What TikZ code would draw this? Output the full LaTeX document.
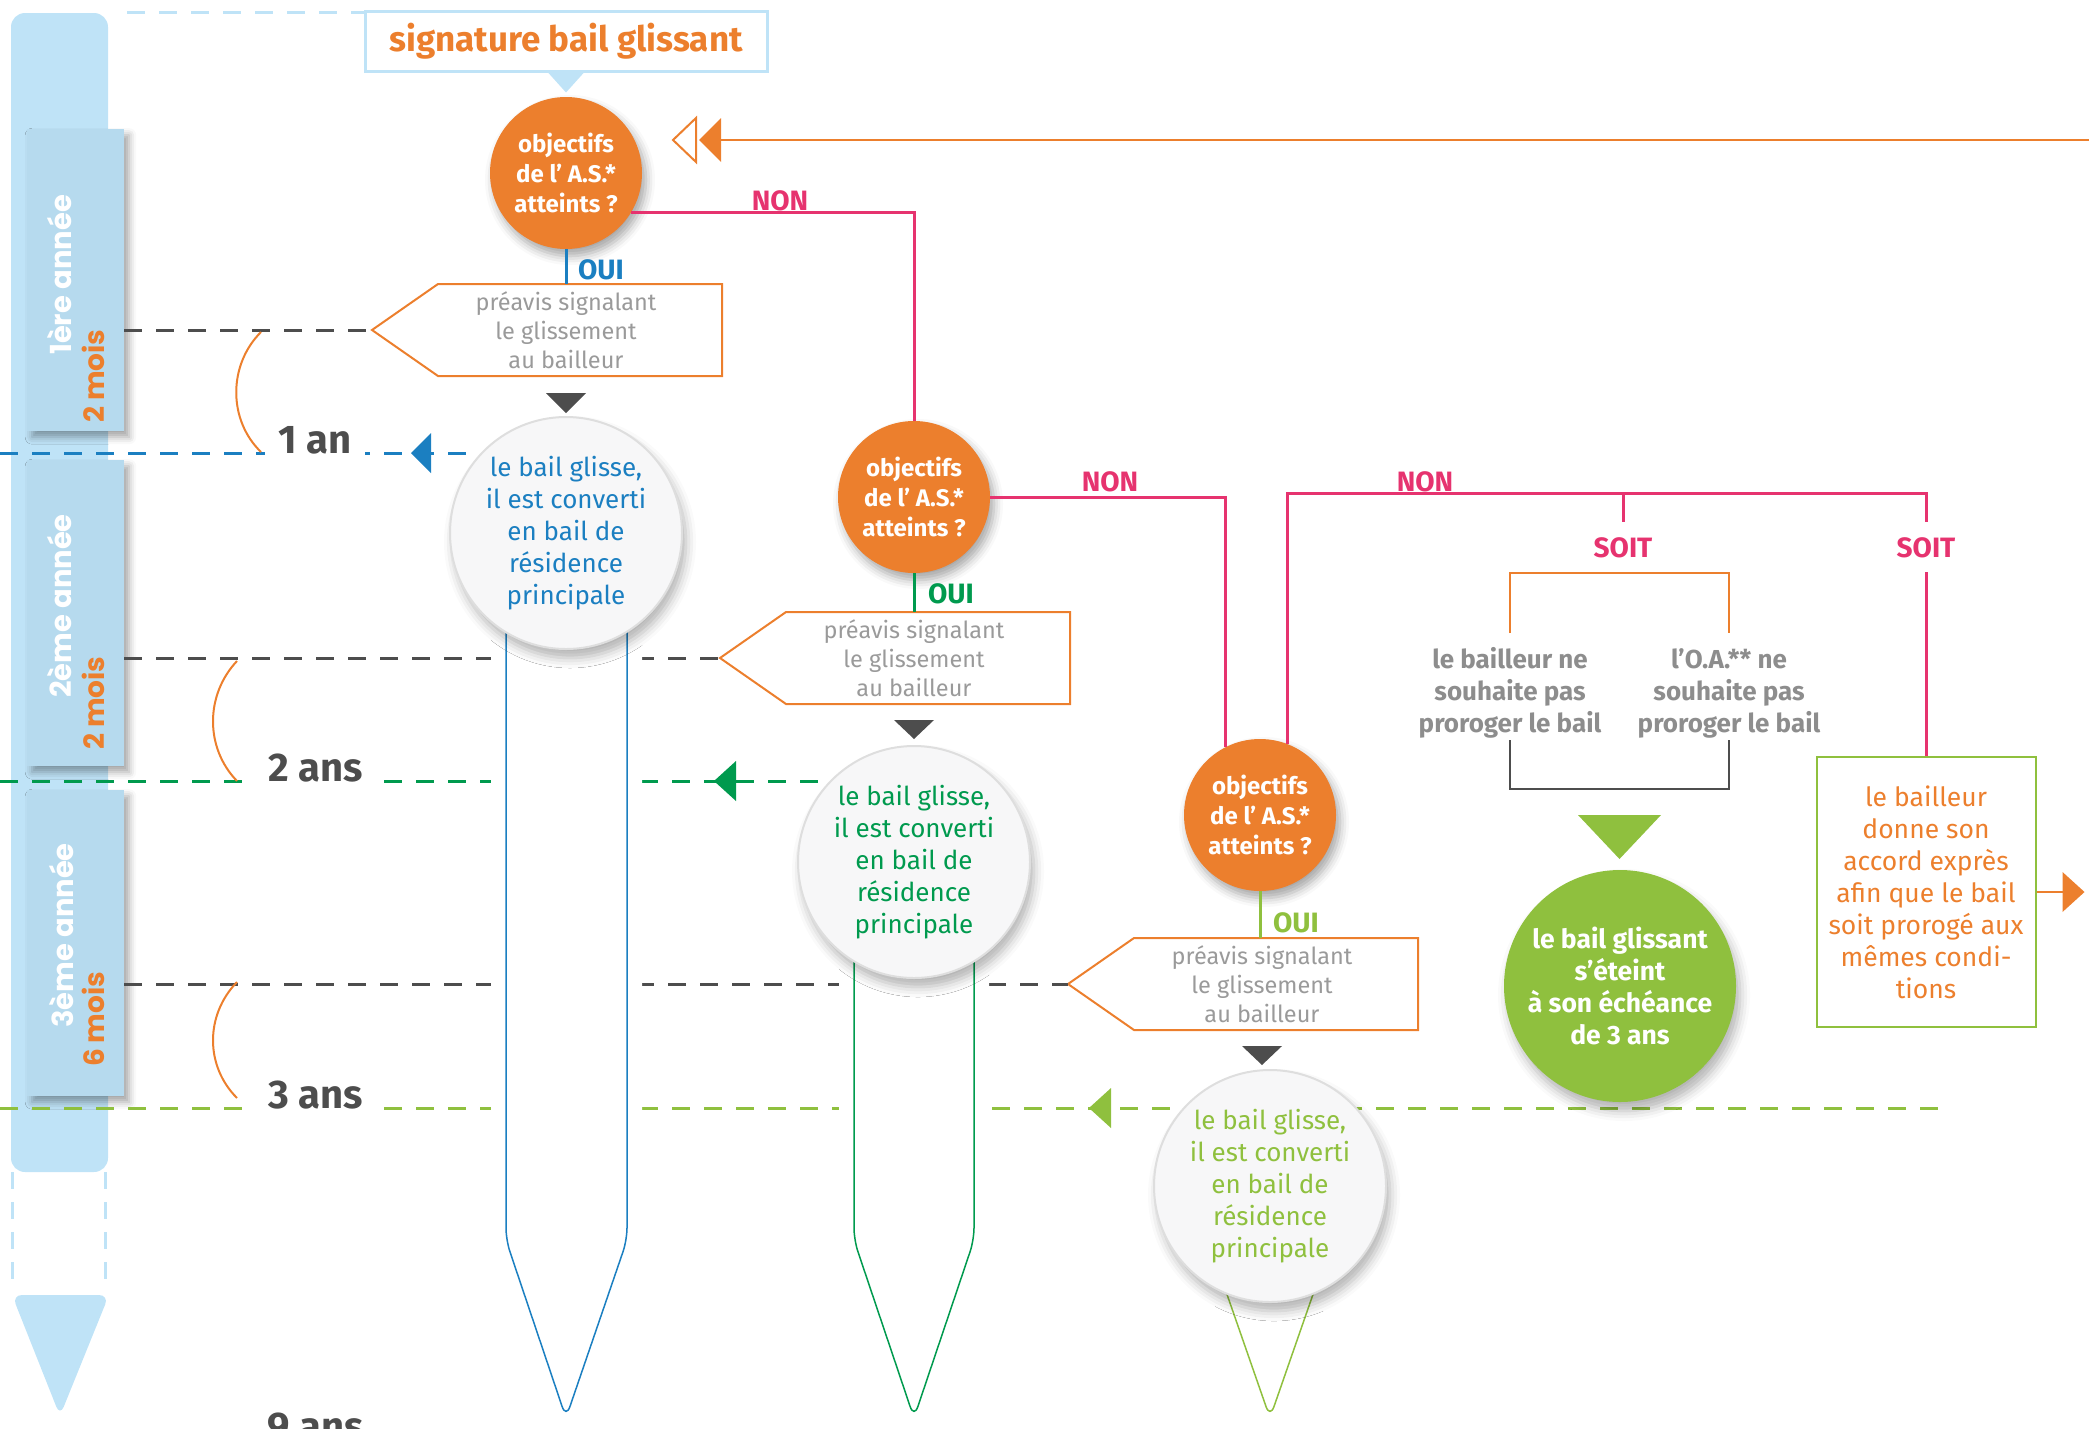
\documentclass[tikz,border=0pt]{standalone}
\usepackage{fontspec}
\setmainfont{Fira Sans}
\newfontfamily\tabfont{Poppins}
\usetikzlibrary{shadows.blur}
\definecolor{asorange}{HTML}{EC7F2D}
\definecolor{aspink}{HTML}{E6336F}
\definecolor{asblue}{HTML}{1B7FC1}
\definecolor{asgreen}{HTML}{009A4E}
\definecolor{aslime}{HTML}{8FC03E}
\definecolor{barblue}{HTML}{BFE3F7}
\definecolor{tabblue}{HTML}{B6DAEE}
\definecolor{pvgrey}{HTML}{9A9A9A}
\definecolor{refusgrey}{HTML}{8D8D8D}
\definecolor{timegrey}{HTML}{4D4D4D}
\definecolor{glfill}{HTML}{F7F7F8}
\definecolor{glborder}{HTML}{DEDEDE}
\begin{document}
\begin{tikzpicture}[
  x=1pt, y=-1pt,
  every node/.style={align=center, inner sep=0pt},
  question/.style={circle, fill=asorange, minimum size=152pt, text=white,
    font=\bfseries\fontsize{24}{30}\selectfont,
    blur shadow={shadow xshift=4pt, shadow yshift=-7pt, shadow blur radius=9pt, shadow opacity=35}},
  glisse/.style={circle, fill=glfill, draw=glborder, line width=2pt, minimum size=232pt,
    font=\fontsize{26}{32}\selectfont,
    blur shadow={shadow xshift=4pt, shadow yshift=-9pt, shadow blur radius=10pt, shadow opacity=30}},
  preavis/.style={text=pvgrey, font=\fontsize{23.5}{29}\selectfont},
  pvbox/.style={draw=asorange, line width=2pt},
  reply/.style={font=\bfseries\fontsize{28}{28}\selectfont},
  nonline/.style={draw=aspink, line width=3pt},
  timeline/.style={line width=3pt, dash pattern=on 18pt off 14pt},
  yearlbl/.style={font=\bfseries\fontsize{40}{40}\selectfont, text=timegrey, fill=white,
    inner xsep=13pt, inner ysep=4pt, anchor=base},
  pencil/.style={fill=white, line width=1.5pt, rounded corners=12pt,
    preaction={draw=white, line width=30pt}},
  tab/.style={fill=tabblue, minimum width=97pt, anchor=north west,
    blur shadow={shadow xshift=5pt, shadow yshift=-6pt, shadow blur radius=7pt, shadow opacity=35}},
  tabyear/.style={rotate=90, anchor=west, text=white, font=\tabfont\bfseries\fontsize{29}{29}\selectfont},
  tabmois/.style={rotate=90, anchor=west, text=asorange, font=\tabfont\bfseries\fontsize{28}{28}\selectfont},
  refus/.style={text=refusgrey, font=\bfseries\fontsize{26}{32}\selectfont},
  downtri/.style={fill=timegrey},
  ]
\useasboundingbox (0,0) rectangle (2089,1428);

% time axis
\fill[barblue, rounded corners=14pt] (11,13) rectangle (108,1172);
\draw[barblue, line width=3pt, dash pattern=on 17pt off 13pt] (12,1172) -- (12,1285);
\draw[barblue, line width=3pt, dash pattern=on 17pt off 13pt] (105,1172) -- (105,1285);
\fill[barblue, rounded corners=10pt] (12,1295) -- (109,1295) -- (60,1416) -- cycle;
\draw[barblue, timeline] (127,12) -- (365,12);

\node[tab, minimum height=302pt] (tab1) at (27,129) {};
\node[tab, minimum height=306pt] (tab2) at (27,460) {};
\node[tab, minimum height=306pt] (tab3) at (27,790) {};
\node[tabyear] at (60,355) {1ère année};
\node[tabmois] at (93,423) {2 mois};
\node[tabyear] at (60,698) {2ème année};
\node[tabmois] at (93,750) {2 mois};
\node[tabyear] at (62,1028) {3ème année};
\node[tabmois] at (93,1067) {6 mois};

% start
\node[draw=barblue, line width=3pt, minimum width=402pt, minimum height=60pt,
  text=asorange, font=\bfseries\fontsize{35}{35}\selectfont] (sig) at (566,41) {signature bail glissant};
\fill[barblue] (sig.south) ++(-18,0) -- ++(36,0) -- ++(-18,20) -- cycle;

% loop back
\coordinate (loopin) at (2089,140);
\coordinate (loopend) at (721,140);
\draw[asorange, line width=2pt] (loopin) -- (loopend);
\fill[asorange] (loopend) -- ++(0,-22) -- ++(-22,22) -- ++(22,22) -- cycle;
\draw[asorange, line width=2pt] (loopend) ++(-25,0) -- ++(0,-22) -- ++(-23,22) -- ++(23,22) -- cycle;

% questions
\node[question] (q1) at (566,173) {objectifs\\de l’ A.S.*\\atteints ?};
\node[question] (q2) at (914,497) {objectifs\\de l’ A.S.*\\atteints ?};
\node[question] (q3) at (1260,815) {objectifs\\de l’ A.S.*\\atteints ?};

% notices
\node[preavis] (pv1) at (566,330) {préavis signalant\\le glissement\\au bailleur};
\node[preavis] (pv2) at (914,658) {préavis signalant\\le glissement\\au bailleur};
\node[preavis] (pv3) at (1262,984) {préavis signalant\\le glissement\\au bailleur};
\draw[pvbox] (pv1.center) ++(-128,-46) coordinate (pv1nw) -- ++(284,0) -- ++(0,92) -- ++(-284,0) -- ++(-66,-46) coordinate (pv1tip) -- cycle;
\draw[pvbox] (pv2.center) ++(-128,-46) coordinate (pv2nw) -- ++(284,0) -- ++(0,92) -- ++(-284,0) -- ++(-66,-46) coordinate (pv2tip) -- cycle;
\draw[pvbox] (pv3.center) ++(-128,-46) coordinate (pv3nw) -- ++(284,0) -- ++(0,92) -- ++(-284,0) -- ++(-66,-46) coordinate (pv3tip) -- cycle;

% OUI
\draw[asblue, line width=3pt] (q1.south) -- (q1.south |- pv1nw);
\draw[asgreen, line width=3pt] (q2.south) -- (q2.south |- pv2nw);
\draw[aslime, line width=3pt] (q3.south) -- (q3.south |- pv3nw);
\node[reply, text=asblue, anchor=base] at (601,279) {OUI};
\node[reply, text=asgreen, anchor=base] at (951,603) {OUI};
\node[reply, text=aslime, anchor=base] at (1296,932) {OUI};

% NON
\draw[nonline] (q1.-31) -| (q2.north);
\draw[nonline] (q2.east) -| (q3.117);
\coordinate (fork) at (1926,493);
\node[reply, text=aspink, anchor=base] at (780,210) {NON};
\node[reply, text=aspink, anchor=base] at (1110,491) {NON};
\node[reply, text=aspink, anchor=base] at (1425,491) {NON};
\node[reply, text=aspink] (soitA) at (1623,548) {SOIT};
\node[reply, text=aspink] (soitB) at (1926,548) {SOIT};
\draw[nonline] (q3.69) |- (fork) -- ++(0,29);
\draw[nonline] (fork -| soitA) -- ++(0,29);

% time lines
\draw[timeline, draw=timegrey] (124,330) -- (pv1tip);
\draw[timeline, draw=asblue] (0,453) -- (474,453);
\draw[timeline, draw=timegrey] (124,658) -- (pv2tip);
\draw[timeline, draw=asgreen] (0,781) -- (830,781);
\draw[timeline, draw=timegrey] (124,984) -- (pv3tip);
\draw[timeline, draw=aslime] (0,1108) -- (1938,1108);
\fill[asblue] (411,453) -- ++(20,-20) -- ++(0,40) -- cycle;
\fill[asgreen] (714,781) -- ++(22,-20) -- ++(0,40) -- cycle;
\fill[aslime] (1089,1108) -- ++(22,-20) -- ++(0,40) -- cycle;
\node[yearlbl] (an1) at (315,453) {1 an};
\node[yearlbl] (an2) at (316,781) {2 ans};
\node[yearlbl] (an3) at (316,1108) {3 ans};
\node[yearlbl] (an9) at (316,1440) {9 ans};
\draw[asorange, line width=2pt] (261,332) .. controls (228,365) and (228,420) .. (261,452);
\draw[asorange, line width=2pt] (237,661) .. controls (205,695) and (205,748) .. (237,781);
\draw[asorange, line width=2pt] (237,982) .. controls (205,1015) and (205,1066) .. (237,1098);

% converted leases
\draw[pencil, draw=asblue] (506,620) -- (506,1240) -- (566,1418) -- (627,1240) -- (627,620);
\draw[pencil, draw=asgreen] (854,950) -- (854,1240) -- (914,1418) -- (974,1240) -- (974,950);
\draw[pencil, draw=aslime] (1222,1280) -- (1270,1418) -- (1318,1280);
\fill[downtri] (pv1.center) ++(-20,63) -- ++(40,0) -- ++(-20,20) -- cycle;
\fill[downtri] (pv2.center) ++(-20,62) -- ++(40,0) -- ++(-20,19) -- cycle;
\fill[downtri] (pv3.center) ++(-20,62) -- ++(40,0) -- ++(-20,19) -- cycle;
\node[glisse, text=asblue] (b1) at (566,533) {le bail glisse,\\il est converti\\en bail de\\résidence\\principale};
\node[glisse, text=asgreen] (b2) at (914,862) {le bail glisse,\\il est converti\\en bail de\\résidence\\principale};
\node[glisse, text=aslime] (b3) at (1270,1186) {le bail glisse,\\il est converti\\en bail de\\résidence\\principale};

% first choice
\node[refus] (refusA) at (1510,693) {le bailleur ne\\souhaite pas\\proroger le bail};
\node[refus] (refusB) at (1729,693) {l’O.A.** ne\\souhaite pas\\proroger le bail};
\draw[asorange, line width=2pt] (refusA.center) ++(0,-60) -- ++(0,-60) -- ++(219,0) -- ++(0,60);
\draw[timegrey, line width=2pt] (refusA.center) ++(0,47) -- ++(0,49) -- ++(219,0) -- ++(0,-49);
\fill[aslime] (1578,815) -- (1661,815) -- (1619.5,859) -- cycle;
\node[glisse, draw=none, fill=aslime, text=white, font=\bfseries\fontsize{26.5}{32}\selectfont]
  (eteint) at (1620,986) {le bail glissant\\s’éteint\\à son échéance\\de 3 ans};

% second choice
\node[draw=aslime, line width=2pt, minimum width=219pt, minimum height=270pt, text=asorange,
  font=\fontsize{26.5}{32}\selectfont] (accord) at (1926,892)
  {le bailleur\\donne son\\accord exprès\\afin que le bail\\soit prorogé aux\\mêmes condi-\\tions};
\draw[nonline] (soitB.south) ++(0,14) -- (accord.north);
\draw[asorange, line width=2pt] (accord.east) -- ++(26,0);
\fill[asorange] (accord.east) ++(26,-20) -- ++(22,20) -- ++(-22,20) -- cycle;
\end{tikzpicture}
\end{document}
